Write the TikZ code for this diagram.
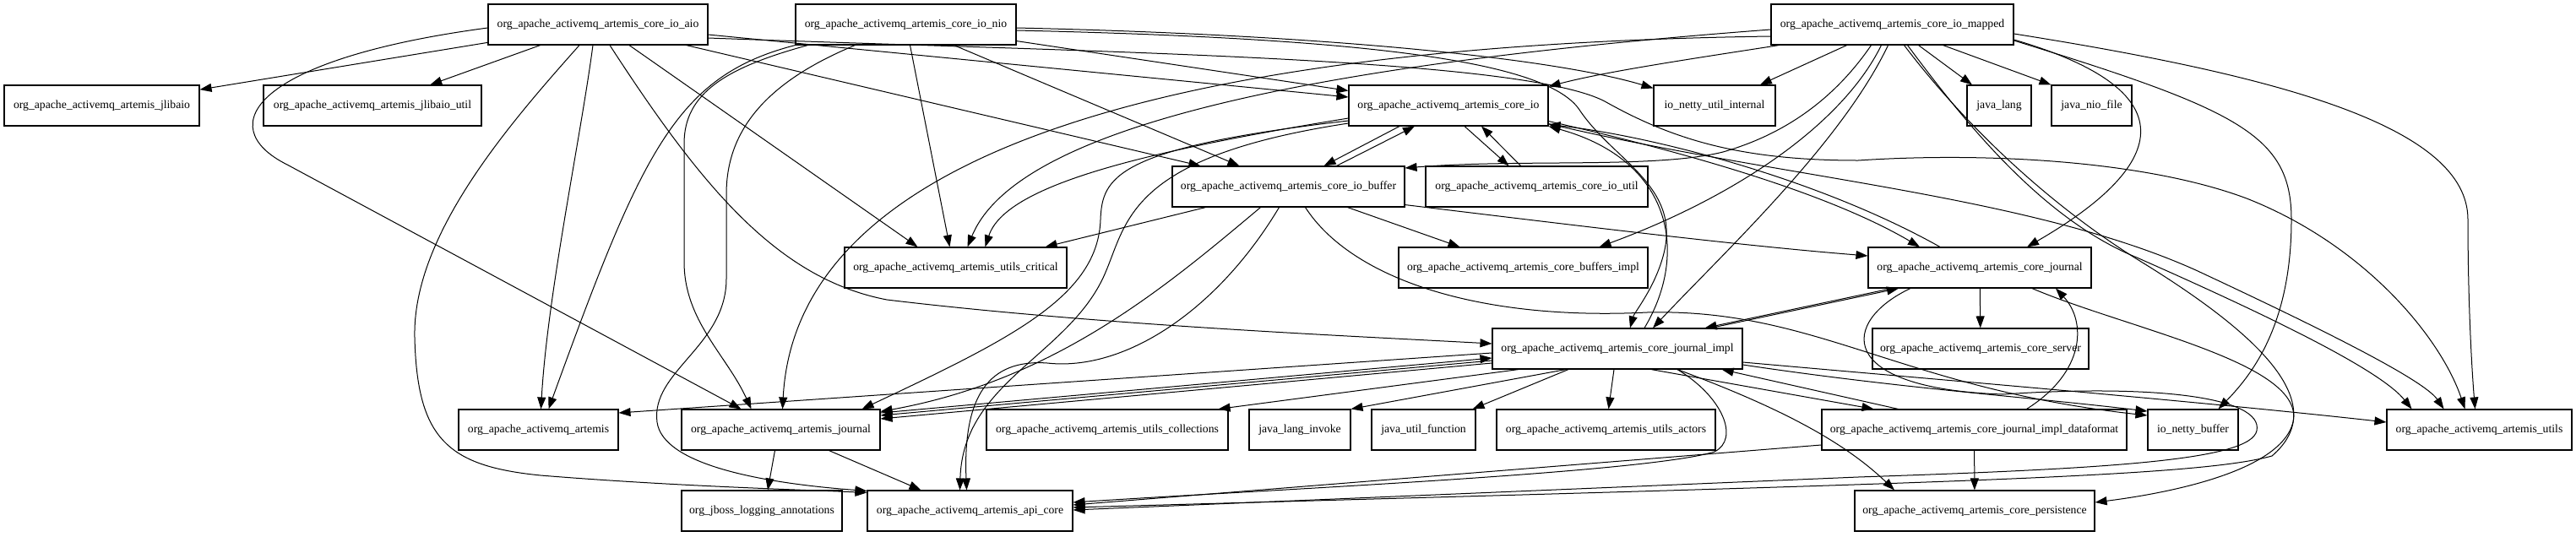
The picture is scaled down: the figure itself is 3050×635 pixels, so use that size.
\documentclass[tikz,border=0pt]{standalone}
\usepackage{fontspec}
\setmainfont{Liberation Serif}
\usetikzlibrary{arrows.meta}
\tikzset{
  box/.style={draw, line width=1.1pt, minimum height=48pt, inner sep=0pt, anchor=center},
  e/.style={line width=1pt, -{Triangle[length=14pt,width=10pt]}},
}
\begin{document}
\begin{tikzpicture}[x=1pt, y=-1pt, font=\fontsize{13.7}{16}\selectfont]
\fill[white] (0,0) rectangle (3050,635);
\useasboundingbox (0,0) rectangle (3050,635);
% nodes
\node[box, minimum width=260pt] (aio) at (708,29) {org\_apache\_activemq\_artemis\_core\_io\_aio};
\node[box, minimum width=261pt] (nio) at (1072.5,29) {org\_apache\_activemq\_artemis\_core\_io\_nio};
\node[box, minimum width=287pt] (mapped) at (2240.5,29) {org\_apache\_activemq\_artemis\_core\_io\_mapped};
\node[box, minimum width=231pt] (jlibaio) at (120.5,125) {org\_apache\_activemq\_artemis\_jlibaio};
\node[box, minimum width=258pt] (jlibaioutil) at (441,125) {org\_apache\_activemq\_artemis\_jlibaio\_util};
\node[box, minimum width=236pt] (coreio) at (1715,125) {org\_apache\_activemq\_artemis\_core\_io};
\node[box, minimum width=144pt] (nettyui) at (2030,125) {io\_netty\_util\_internal};
\node[box, minimum width=76pt] (javalang) at (2367,125) {java\_lang};
\node[box, minimum width=95pt] (niofile) at (2476.5,125) {java\_nio\_file};
\node[box, minimum width=275pt] (buffer) at (1525.5,221) {org\_apache\_activemq\_artemis\_core\_io\_buffer};
\node[box, minimum width=263pt] (util) at (1819.5,221) {org\_apache\_activemq\_artemis\_core\_io\_util};
\node[box, minimum width=263pt] (critical) at (1131.5,317) {org\_apache\_activemq\_artemis\_utils\_critical};
\node[box, minimum width=295pt] (bufimpl) at (1803.5,317) {org\_apache\_activemq\_artemis\_core\_buffers\_impl};
\node[box, minimum width=264pt] (cj) at (2344,317) {org\_apache\_activemq\_artemis\_core\_journal};
\node[box, minimum width=296pt] (impl) at (1915,413) {org\_apache\_activemq\_artemis\_core\_journal\_impl};
\node[box, minimum width=256pt] (server) at (2345,413) {org\_apache\_activemq\_artemis\_core\_server};
\node[box, minimum width=189pt] (artemis) at (637.5,509) {org\_apache\_activemq\_artemis};
\node[box, minimum width=235pt] (journal) at (924.5,509) {org\_apache\_activemq\_artemis\_journal};
\node[box, minimum width=286pt] (collections) at (1311,509) {org\_apache\_activemq\_artemis\_utils\_collections};
\node[box, minimum width=120pt] (invoke) at (1539,509) {java\_lang\_invoke};
\node[box, minimum width=123pt] (function) at (1685.5,509) {java\_util\_function};
\node[box, minimum width=259pt] (actors) at (1901.5,509) {org\_apache\_activemq\_artemis\_utils\_actors};
\node[box, minimum width=361pt] (df) at (2337.5,509) {org\_apache\_activemq\_artemis\_core\_journal\_impl\_dataformat};
\node[box, minimum width=107pt] (nettybuf) at (2596.5,509) {io\_netty\_buffer};
\node[box, minimum width=219pt] (autils) at (2935.5,509) {org\_apache\_activemq\_artemis\_utils};
\node[box, minimum width=190pt] (jboss) at (902,605) {org\_jboss\_logging\_annotations};
\node[box, minimum width=243pt] (api) at (1148.5,605) {org\_apache\_activemq\_artemis\_api\_core};
\node[box, minimum width=284pt] (persist) at (2338,605) {org\_apache\_activemq\_artemis\_core\_persistence};
% ---- aio
\draw[e] (aio) -- (jlibaio);
\draw[e] (aio) -- (jlibaioutil);
\draw[e] ([shift={(-22,0)}]aio.south) .. controls (600,150) and (488,280) .. (491,400) .. controls (494,520) and (530,552) .. (640,563) .. controls (800,576) and (950,580) .. ([shift={(0,3)}]api.north west);
\draw[e] ([shift={(-6,0)}]aio.south) .. controls (688,160) and (648,350) .. ([shift={(3,0)}]artemis.north);
\draw[e] ([shift={(14,0)}]aio.south) .. controls (830,220) and (920,330) .. (1050,355) .. controls (1300,385) and (1600,398) .. ([shift={(0,-6)}]impl.west);
\draw[e] ([shift={(0,4)}]aio.west) .. controls (300,70) and (250,150) .. (340,195) -- ([shift={(-47,0)}]journal.north);
\draw[e] ([shift={(0,12)}]aio.east) -- ([shift={(0,-10)}]coreio.west);
\draw[e] ([shift={(-26,0)}]aio.south east) -- ([shift={(34,0)}]buffer.north west);
\draw[e] ([shift={(37,0)}]aio.south) -- ([shift={(-45,0)}]critical.north);
\draw[e] ([shift={(0,16)}]aio.east) .. controls (1300,62) and (1800,68) .. (1900,120) .. controls (1980,165) and (2060,190) .. (2200,190) .. controls (2350,180) and (2540,190) .. (2660,235) .. controls (2800,290) and (2890,400) .. ([shift={(-17,0)}]autils.north);
% ---- nio
\draw[e] (nio.south west) .. controls (800,90) and (760,180) .. ([shift={(12,0)}]artemis.north);
\draw[e] ([shift={(15,0)}]nio.south west) .. controls (860,80) and (810,110) .. (810,170) -- (810,310) .. controls (810,380) and (860,420) .. ([shift={(-35,0)}]journal.north);
\draw[e] ([shift={(71,0)}]nio.south west) .. controls (900,100) and (860,160) .. (860,230) -- (860,330) .. controls (860,410) and (770,440) .. (778,500) .. controls (785,550) and (900,572) .. ([shift={(0,1)}]api.north west);
\draw[e] ([shift={(5,0)}]nio.south) -- ([shift={(-7,0)}]critical.north);
\draw[e] ([shift={(57,0)}]nio.south) -- ([shift={(-58,0)}]buffer.north);
\draw[e] ([shift={(0,-5)}]nio.south east) -- ([shift={(0,7)}]coreio.north west);
\draw[e] ([shift={(0,4)}]nio.east) .. controls (1600,42) and (1850,72) .. ([shift={(0,4)}]nettyui.north west);
\draw[e] ([shift={(0,7)}]nio.east) .. controls (1600,45) and (1830,70) .. (1870,130) .. controls (1910,190) and (1990,220) .. (1970,300) .. controls (1960,340) and (1935,370) .. ([shift={(15,0)}]impl.north);
% ---- mapped
\draw[e] (mapped) -- (nettyui);
\draw[e] ([shift={(31,0)}]mapped.south) -- ([shift={(-32,0)}]javalang.north);
\draw[e] ([shift={(60,0)}]mapped.south) -- (niofile.north west);
\draw[e] ([shift={(10,0)}]mapped.south west) .. controls (2000,70) and (1900,85) .. ([shift={(0,2)}]coreio.north east);
\draw[e] ([shift={(0,6)}]mapped.west) .. controls (1500,80) and (1200,160) .. ([shift={(14,0)}]critical.north);
\draw[e] ([shift={(0,14)}]mapped.west) .. controls (1250,55) and (940,230) .. ([shift={(2,0)}]journal.north);
\draw[e] ([shift={(-25,0)}]mapped.south) .. controls (2170,120) and (2110,160) .. (2040,180) .. controls (1960,200) and (1800,188) .. ([shift={(0,-22)}]buffer.east);
\draw[e] ([shift={(-13,0)}]mapped.south) .. controls (2180,150) and (2050,235) .. ([shift={(90,0)}]bufimpl.north);
\draw[e] ([shift={(-5,0)}]mapped.south) .. controls (2180,170) and (2040,300) .. ([shift={(42,0)}]impl.north);
\draw[e] ([shift={(0,18)}]mapped.east) .. controls (2600,110) and (2560,200) .. ([shift={(56,0)}]cj.north);
\draw[e] ([shift={(0,19)}]mapped.east) .. controls (2650,130) and (2713,160) .. (2713,260) .. controls (2713,380) and (2670,440) .. ([shift={(30,0)}]nettybuf.north);
\draw[e] ([shift={(0,11)}]mapped.east) .. controls (2700,90) and (2922,150) .. (2922,260) .. controls (2922,350) and (2926,430) .. ([shift={(-5,0)}]autils.north);
\draw[e] ([shift={(18,0)}]mapped.south) .. controls (2330,150) and (2420,260) .. (2530,305) .. controls (2700,380) and (2820,440) .. ([shift={(-80,0)}]autils.north);
\draw[e] ([shift={(14,0)}]mapped.south) .. controls (2320,140) and (2420,240) .. (2540,313) .. controls (2680,400) and (2760,480) .. (2690,540) .. controls (2600,565) and (2300,572) .. ([shift={(0,-4)}]api.east);
% ---- core io
\draw[e] ([shift={(0,15)}]coreio.west) .. controls (1350,180) and (1190,220) .. ([shift={(35,0)}]critical.north);
\draw[e] ([shift={(0,18)}]coreio.west) .. controls (1320,175) and (1305,210) .. (1303,260) .. controls (1300,350) and (1200,400) .. ([shift={(-22,0)}]journal.north east);
\draw[e] ([shift={(0,21)}]coreio.west) .. controls (1340,185) and (1335,260) .. (1310,320) .. controls (1270,420) and (1140,450) .. ([shift={(-12,0)}]api.north);
\draw[e] ([shift={(-58,0)}]coreio.south) -- ([shift={(42,0)}]buffer.north);
\draw[e] ([shift={(57,0)}]buffer.north) -- ([shift={(-40,0)}]coreio.south);
\draw[e] ([shift={(19,0)}]coreio.south) -- ([shift={(-33,0)}]util.north);
\draw[e] ([shift={(-19,0)}]util.north) -- ([shift={(39,0)}]coreio.south);
\draw[e] ([shift={(0,-6)}]coreio.south east) .. controls (1950,170) and (2150,220) .. ([shift={(-71,0)}]cj.north);
\draw[e] ([shift={(-47,0)}]cj.north) .. controls (2150,210) and (1950,160) .. ([shift={(0,-2)}]coreio.south east);
\draw[e] ([shift={(32,0)}]impl.north) .. controls (2000,300) and (1980,190) .. (coreio.south east);
\draw[e] ([shift={(0,-3)}]coreio.south east) .. controls (2100,210) and (2400,230) .. (2600,320) .. controls (2750,390) and (2870,450) .. ([shift={(-42,0)}]autils.north);
% ---- buffer
\draw[e] ([shift={(-98,0)}]buffer.south) -- ([shift={(-26,0)}]critical.north east);
\draw[e] ([shift={(70,0)}]buffer.south) -- ([shift={(-75,0)}]bufimpl.north);
\draw[e] ([shift={(0,-3)}]buffer.south east) .. controls (1850,265) and (2050,290) .. ([shift={(0,-14)}]cj.west);
\draw[e] ([shift={(-33,0)}]buffer.south) .. controls (1380,340) and (1250,450) .. ([shift={(0,3)}]journal.north east);
\draw[e] ([shift={(-11,0)}]buffer.south) .. controls (1440,370) and (1330,440) .. (1240,430) .. controls (1170,425) and (1140,470) .. ([shift={(-4,0)}]api.north);
\draw[e] ([shift={(20,0)}]buffer.south) .. controls (1600,330) and (1750,380) .. (1950,370) .. controls (2150,365) and (2250,460) .. ([shift={(0,-17)}]nettybuf.west);
% ---- core journal
\draw[e] (cj) -- (server);
\draw[e] ([shift={(-104,0)}]cj.south) -- ([shift={(-45,0)}]impl.north east);
\draw[e] ([shift={(-38,0)}]impl.north east) -- ([shift={(-96,0)}]cj.south);
\draw[e] ([shift={(62,0)}]cj.south) .. controls (2520,390) and (2730,430) .. (2715,500) .. controls (2700,560) and (2560,585) .. ([shift={(0,-10)}]persist.east);
\draw[e] ([shift={(-82,0)}]cj.south) .. controls (2180,380) and (2170,460) .. (2371,467) .. controls (2550,455) and (2680,470) .. (2672,510) .. controls (2665,545) and (2500,555) .. (2200,565) -- ([shift={(0,-1)}]api.east);
% ---- impl
\draw[e] ([shift={(40,0)}]impl.south) -- ([shift={(-119,0)}]df.north);
\draw[e] ([shift={(-90,0)}]df.north) -- ([shift={(-25,0)}]impl.south east);
\draw[e] ([shift={(0,17)}]impl.west) -- ([shift={(0,-13)}]journal.east);
\draw[e] ([shift={(0,14)}]impl.west) -- ([shift={(0,-17)}]journal.east);
\draw[e] ([shift={(0,-20)}]journal.east) -- ([shift={(0,11)}]impl.west);
\draw[e] ([shift={(0,5)}]impl.west) -- ([shift={(0,-20)}]artemis.east);
\draw[e] ([shift={(-117,0)}]impl.south) -- ([shift={(-12,0)}]collections.north east);
\draw[e] ([shift={(-61,0)}]impl.south) -- (invoke.north east);
\draw[e] ([shift={(-58,0)}]impl.south) -- ([shift={(-4,0)}]function.north east);
\draw[e] ([shift={(-4,0)}]impl.south) -- ([shift={(3,0)}]actors.north);
\draw[e] ([shift={(0,19)}]impl.east) .. controls (2250,460) and (2400,470) .. ([shift={(0,-22)}]nettybuf.west);
\draw[e] ([shift={(0,16)}]impl.east) .. controls (2300,450) and (2600,475) .. ([shift={(0,-9)}]autils.west);
\draw[e] ([shift={(71,0)}]impl.south) .. controls (2040,470) and (2060,520) .. (2030,535) .. controls (1950,560) and (1500,580) .. ([shift={(0,-10)}]api.east);
\draw[e] ([shift={(71,0)}]impl.south) .. controls (2100,480) and (2180,520) .. ([shift={(-95,0)}]persist.north);
% ---- dataformat
\draw[e] ([shift={(62,0)}]df.north) .. controls (2470,440) and (2470,380) .. ([shift={(90,0)}]cj.south);
\draw[e] (df) -- (persist);
\draw[e] ([shift={(0,18)}]df.west) -- ([shift={(0,-7)}]api.east);
% ---- journal
\draw[e] ([shift={(-7,0)}]journal.south) -- ([shift={(7,0)}]jboss.north);
\draw[e] ([shift={(57,0)}]journal.south) -- ([shift={(-58,0)}]api.north);
\end{tikzpicture}
\end{document}
